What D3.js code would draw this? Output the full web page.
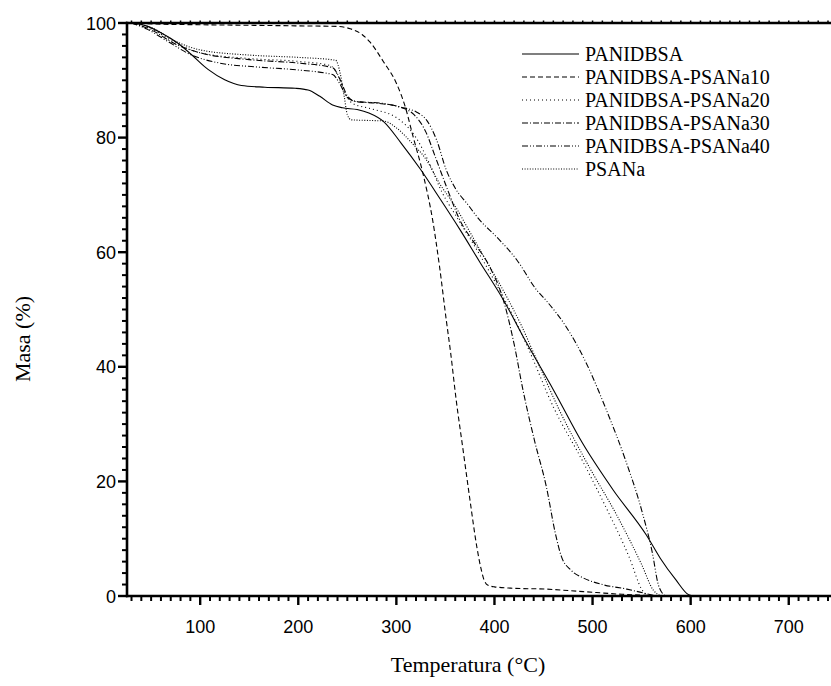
<!DOCTYPE html>
<html><head><meta charset="utf-8">
<script src="https://cdn.jsdelivr.net/npm/d3@7"></script>
<style>html,body{margin:0;padding:0;background:#fff;overflow:hidden}</style>
</head><body><svg id="c" width="831" height="686"></svg>
<script>
// ---- data ----
const seriesNames = ["PANIDBSA","PANIDBSA-PSANa10","PANIDBSA-PSANa20","PANIDBSA-PSANa30","PANIDBSA-PSANa40","PSANa"];
const xTicks = [100,200,300,400,500,600,700];
const yTicks = [0,20,40,60,80,100];
const panidbsa = [[30,100],[45,99.5],[60,98.3],[77,96.5],[91,94.5],[108,91.9],[125,90.1],[142,89.1],[166,88.8],[197,88.6],[210,88.3],[222,87.2],[235,85.7],[245,85.2],[260,84.9],[272,84.3],[287,82.8],[305,79],[324,74.6],[345,69.2],[365,63.9],[385,58.3],[409,51.7],[433,44.1],[460,36],[490,26.6],[521,18.5],[555,10.6],[569,6.6],[585,2.8],[598,0.2],[602,0]];
const psana10 = [[30,100],[60,99.8],[100,99.7],[200,99.5],[240,99.4],[253,99],[265,98],[273,96.7],[287,93.2],[300,89.5],[309,85.4],[317,80.2],[327,73.8],[337,65.6],[344,57.5],[351,48],[355,42.9],[361,34.2],[368,25.5],[375,16.8],[382,8.6],[386,5],[389,3],[393,1.9],[400,1.6],[420,1.35],[453,1.2],[475,0.95],[504,0.6],[530,0.3],[560,0.1],[600,0]];
const psana20 = [[30,100],[50,99],[75,96.5],[100,94.8],[150,93.8],[200,93.3],[232,92.6],[240,91],[247,88],[255,86],[275,85],[300,83.5],[320,80],[335,75],[345,71],[362,66],[380,61],[400,55],[420,48.5],[435,43],[460,33],[490,23.5],[515,15],[538,6.5],[550,1.2],[556,0]];
const psana30 = [[30,100],[50,98.8],[75,96.3],[100,94.8],[150,93.6],[200,93],[235,92.2],[243,90],[250,87.3],[258,86.3],[280,86],[300,85.5],[318,84],[330,81],[340,76.5],[352,71],[365,65.5],[380,61.5],[395,57.5],[409,51.7],[420,44],[429,36],[441,27],[453,19],[462,11],[468,7],[478,4.5],[490,3.2],[510,2],[535,1.2],[555,0.4],[565,0]];
const psana40 = [[30,100],[45,99],[65,97],[90,94.5],[120,93],[160,92.3],[200,91.8],[235,91],[242,89.5],[250,87],[260,86.3],[285,86],[305,85.3],[320,84.5],[331,83],[341,79.6],[351,74.3],[361,70.9],[372,68.5],[385,65.6],[402,62.7],[423,58.6],[443,53.4],[453,51.5],[473,47],[494,40.5],[514,32.5],[533,24],[550,15],[561,7.5],[567,2],[574,0]];
const psana = [[30,100],[50,99.2],[75,96.8],[100,95.3],[150,94.4],[200,94],[238,93.5],[243,91],[247,87],[250,84],[254,83.1],[270,83],[287,82.9],[300,81.7],[315,79.2],[331,76],[344,72],[360,68],[375,63.5],[390,59],[410,53],[428,47],[441,42],[466,32.5],[495,23],[525,14],[550,5.5],[562,1],[570,0]];
const allSeries = [panidbsa, psana10, psana20, psana30, psana40, psana];
const dashes = [null, "5,3", "1,3", "6,2,1,2", "6,2,1,2,1,2", "1,1.6"];

// ---- layout ----
const svg = d3.select("#c");
const x = d3.scaleLinear().domain([25,750]).range([126.6,837.8]);
const y = d3.scaleLinear().domain([0,100]).range([596,23]);
const serif = "'Liberation Serif','Times New Roman',serif";
const sans = "'Liberation Sans',Arial,sans-serif";

svg.append("clipPath").attr("id","clip").append("rect")
  .attr("x",127).attr("y",23).attr("width",710).attr("height",573);

const line = d3.line().x(d=>x(d[0])).y(d=>y(d[1])).curve(d3.curveMonotoneX);
const g = svg.append("g").attr("clip-path","url(#clip)");
allSeries.forEach((s,i)=>{
  g.append("path").datum(s).attr("d",line).attr("fill","none")
   .attr("stroke","#000").attr("stroke-width",1.1)
   .attr("stroke-dasharray", dashes[i]);
});

// axes
const minorX = d3.range(30,750,10).filter(v=>v%100!==0);
const minorY = d3.range(2,100,2).filter(v=>v%20!==0);

// bottom
const xb = svg.append("g").attr("transform","translate(0,596)");
xb.append("line").attr("x1",126).attr("x2",831).attr("stroke","#000").attr("stroke-width",2.6);
xb.selectAll(".mj").data(xTicks).enter().append("line").attr("x1",d=>x(d)).attr("x2",d=>x(d)).attr("y1",0).attr("y2",9).attr("stroke","#000").attr("stroke-width",2.4);
xb.selectAll(".mn").data(minorX).enter().append("line").attr("x1",d=>x(d)).attr("x2",d=>x(d)).attr("y1",0).attr("y2",5).attr("stroke","#000").attr("stroke-width",2);
xb.selectAll("text").data(xTicks).enter().append("text").attr("x",d=>x(d)).attr("y",37)
  .attr("text-anchor","middle").attr("font-family",sans).attr("font-size",18).text(d=>d);
// top
const xt = svg.append("g").attr("transform","translate(0,23)");
xt.append("line").attr("x1",126).attr("x2",831).attr("stroke","#000").attr("stroke-width",2.6);
xt.selectAll(".mn").data(minorX.concat(xTicks)).enter().append("line").attr("x1",d=>x(d)).attr("x2",d=>x(d)).attr("y1",-2.5).attr("y2",0).attr("stroke","#000").attr("stroke-width",1.5);
// left
const yl = svg.append("g").attr("transform","translate(127,0)");
yl.append("line").attr("y1",21.7).attr("y2",597.3).attr("stroke","#000").attr("stroke-width",2.6);
yl.selectAll(".mj").data(yTicks).enter().append("line").attr("y1",d=>y(d)).attr("y2",d=>y(d)).attr("x1",0).attr("x2",-9).attr("stroke","#000").attr("stroke-width",2.4);
yl.selectAll(".mn").data(minorY).enter().append("line").attr("y1",d=>y(d)).attr("y2",d=>y(d)).attr("x1",0).attr("x2",-5).attr("stroke","#000").attr("stroke-width",2);
yl.selectAll("text").data(yTicks).enter().append("text").attr("x",-11).attr("y",d=>y(d)+6.5)
  .attr("text-anchor","end").attr("font-family",sans).attr("font-size",18).text(d=>d);

// titles
svg.append("text").attr("x",468).attr("y",672).attr("text-anchor","middle")
  .attr("font-family",serif).attr("font-size",22).text("Temperatura (°C)");
svg.append("text").attr("transform","translate(30,339) rotate(-90)").attr("text-anchor","middle")
  .attr("font-family",serif).attr("font-size",22).text("Masa (%)");

// legend
const lg = svg.append("g");
seriesNames.forEach((n,i)=>{
  const yy = 54 + i*23;
  lg.append("line").attr("x1",522).attr("x2",579).attr("y1",yy).attr("y2",yy)
    .attr("stroke","#000").attr("stroke-width",1.1).attr("stroke-dasharray",dashes[i]);
  lg.append("text").attr("x",585).attr("y",yy+6.5).attr("font-family",serif).attr("font-size",20).text(n);
});
</script></body></html>
